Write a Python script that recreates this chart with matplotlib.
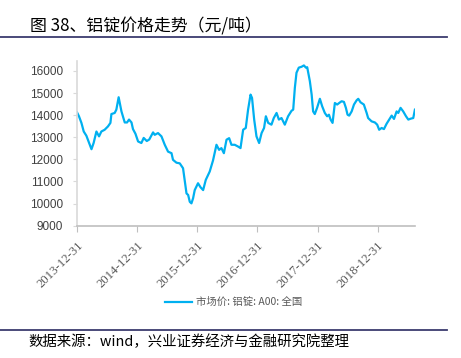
import pandas as pd
import matplotlib
matplotlib.use('Agg')
import matplotlib.pyplot as plt
from matplotlib.lines import Line2D

plt.rcParams['font.family'] = ['Noto Sans CJK SC', 'DejaVu Sans']

# aluminium ingot A00 spot price
dates = ['2013-12-31', '2014-01-12', '2014-01-27', '2014-02-10', '2014-02-26',
         '2014-03-14', '2014-03-29', '2014-04-11', '2014-04-28', '2014-05-14',
         '2014-05-28', '2014-06-17', '2014-07-07', '2014-07-22', '2014-07-28',
         '2014-08-17', '2014-08-27', '2014-09-10', '2014-09-27', '2014-10-17',
         '2014-10-31', '2014-11-12', '2014-11-27', '2014-12-06', '2014-12-21',
         '2015-01-06', '2015-01-26', '2015-02-09', '2015-02-28', '2015-03-15',
         '2015-04-07', '2015-04-17', '2015-05-07', '2015-05-28', '2015-06-17',
         '2015-07-07', '2015-07-28', '2015-08-06', '2015-08-27', '2015-09-16',
         '2015-10-06', '2015-10-27', '2015-11-06', '2015-11-16', '2015-11-26',
         '2015-12-06', '2015-12-16', '2016-01-05', '2016-01-20', '2016-02-05',
         '2016-02-21', '2016-03-16', '2016-04-05', '2016-04-26', '2016-05-12',
         '2016-05-26', '2016-06-10', '2016-06-26', '2016-07-12', '2016-07-26',
         '2016-08-15', '2016-09-04', '2016-09-19', '2016-10-05', '2016-10-21',
         '2016-11-04', '2016-11-19', '2016-11-28', '2016-12-11', '2016-12-25',
         '2017-01-10', '2017-01-25', '2017-02-09', '2017-02-20', '2017-03-06',
         '2017-03-26', '2017-04-09', '2017-04-26', '2017-05-10', '2017-05-26',
         '2017-06-15', '2017-07-05', '2017-07-26', '2017-08-05', '2017-08-15',
         '2017-08-25', '2017-09-08', '2017-09-25', '2017-10-09', '2017-10-21',
         '2017-10-29', '2017-11-14', '2017-11-25', '2017-12-04', '2017-12-14',
         '2017-12-28', '2018-01-14', '2018-01-28', '2018-02-13', '2018-02-27',
         '2018-03-10', '2018-03-20', '2018-04-01', '2018-04-15', '2018-04-29',
         '2018-05-11', '2018-05-26', '2018-06-09', '2018-06-21', '2018-07-01',
         '2018-07-11', '2018-07-26', '2018-08-09', '2018-08-25', '2018-09-04',
         '2018-09-18', '2018-10-08', '2018-10-25', '2018-11-03', '2018-11-24',
         '2018-12-14', '2018-12-28', '2019-01-09', '2019-01-24', '2019-02-07',
         '2019-02-23', '2019-03-11', '2019-03-26', '2019-04-09', '2019-04-25',
         '2019-05-05', '2019-05-19', '2019-06-04', '2019-06-21', '2019-07-05',
         '2019-07-19', '2019-08-04', '2019-08-14']
price = [14130, 13950, 13650, 13260, 13070, 12760, 12460, 12740, 13260, 13040,
         13260, 13340, 13490, 13650, 14050, 14100, 14250, 14810, 14170, 13670,
         13670, 13800, 13670, 13370, 13160, 12810, 12740, 12970, 12830, 12900,
         13220, 13110, 13190, 13040, 12660, 12350, 12280, 11980, 11850, 11820,
         11600, 10460, 10390, 10080, 10010, 10240, 10610, 10920, 10740, 10610,
         11070, 11450, 11950, 12660, 12430, 12510, 12280, 12890, 12960, 12660,
         12660, 12580, 12510, 13340, 13420, 14250, 14930, 14780, 13800, 13040,
         12740, 13190, 13420, 13950, 13650, 13570, 13870, 14100, 13800, 13870,
         13570, 13950, 14200, 14250, 15240, 15920, 16150, 16190, 16250, 16150,
         16170, 15540, 14930, 14170, 14050, 14330, 14740, 14400, 14100, 13950,
         14020, 13800, 13650, 14550, 14480, 14550, 14630, 14600, 14330, 14020,
         13980, 14170, 14480, 14670, 14740, 14580, 14480, 14100, 13870, 13720,
         13670, 13570, 13340, 13420, 13370, 13610, 13800, 13980, 13830, 14170,
         14100, 14330, 14170, 13950, 13800, 13840, 13870, 14250]
xticks = ['2013-12-31', '2014-12-31', '2015-12-31', '2016-12-31', '2017-12-31', '2018-12-31']
yticks = [9000, 10000, 11000, 12000, 13000, 14000, 15000, 16000]
series_name = '市场价: 铝锭: A00: 全国'
title = '图 38、铝锭价格走势（元/吨）'
source = '数据来源：wind，兴业证券经济与金融研究院整理'

x = pd.to_datetime(dates)
xt = pd.to_datetime(xticks)

fig = plt.figure(figsize=(4.61, 3.58), dpi=100)
ax = fig.add_axes([0.167, 0.3696, 0.733, 0.46])
ax.plot(x, price, color='#00b0f0', lw=1.6, label=series_name)

ax.set_xlim(x[0], x[-1])
ax.set_ylim(9000, 16450)
ax.set_yticks(yticks)
ax.set_yticklabels([str(v) for v in yticks], family='Liberation Sans', fontsize=8.5, color='#404040')
ax.set_xticks(xt)
ax.set_xticklabels(xticks, rotation=45, ha='right', va='top', rotation_mode='anchor',
                   family='Liberation Serif', fontsize=9.2, color='#595959')
for s in ['top', 'right']:
    ax.spines[s].set_visible(False)
ax.spines['left'].set_color('#d9d9d9')
ax.spines['bottom'].set_color('#bfbfbf')
ax.spines['left'].set_linewidth(1.2)
ax.spines['bottom'].set_linewidth(1.2)
ax.tick_params(axis='y', length=3, width=0.8, color='#d9d9d9', pad=7)
ax.tick_params(axis='x', length=4, width=0.8, color='#bfbfbf', pad=6)

ax.legend(loc='center', bbox_to_anchor=(0.507, 0.156), bbox_transform=fig.transFigure,
          frameon=False, fontsize=7.5, handlelength=2.6, handletextpad=0.4,
          labelcolor='#595959')

# header / footer
fig.text(0.065, 0.926, title, fontsize=12.2, va='center', ha='left', color='black')
fig.add_artist(Line2D([0, 0.97], [0.898, 0.898], color='#3c3c6e', lw=1.3))
fig.add_artist(Line2D([0, 0.97], [0.078, 0.078], color='#3c3c6e', lw=1.3))
fig.text(0.061, 0.044, source, fontsize=10.4, va='center', ha='left', color='black')

fig.savefig('out.png', dpi=100)
